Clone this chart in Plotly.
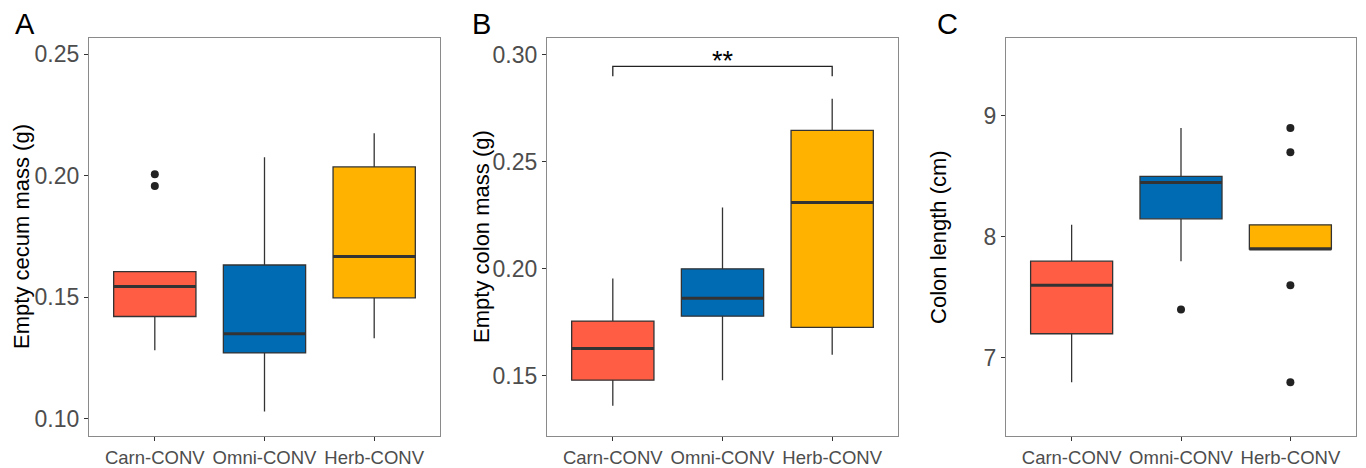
import plotly.graph_objects as go

W, H = 1366, 468

categories = ["Carn-CONV", "Omni-CONV", "Herb-CONV"]
colors = ["#FF5E45", "#006BB2", "#FFB300"]

# Panel A: Empty cecum mass (g)
a_low = [0.1282, 0.1030, 0.1331]
a_q1 = [0.1421, 0.1271, 0.1498]
a_med = [0.1545, 0.1350, 0.1668]
a_q3 = [0.1606, 0.1633, 0.2037]
a_high = [0.1606, 0.2077, 0.2176]
a_out_x = ["Carn-CONV", "Carn-CONV"]
a_out_y = [0.2007, 0.1958]

# Panel B: Empty colon mass (g)
b_low = [0.1361, 0.1480, 0.1599]
b_q1 = [0.1480, 0.1779, 0.1727]
b_med = [0.1628, 0.1863, 0.2310]
b_q3 = [0.1756, 0.2000, 0.2647]
b_high = [0.1955, 0.2287, 0.2795]
b_out_x = []
b_out_y = []
b_sig_pair = ["Carn-CONV", "Herb-CONV"]
b_sig_y = 0.2946
b_sig_drop = 0.2900
b_sig_label = "**"

# Panel C: Colon length (cm)
c_low = [6.8, 7.8, 7.9]
c_q1 = [7.2, 8.15, 7.9]
c_med = [7.6, 8.45, 7.9]
c_q3 = [7.8, 8.5, 8.1]
c_high = [8.1, 8.9, 8.1]
c_out_x = ["Omni-CONV", "Herb-CONV", "Herb-CONV", "Herb-CONV", "Herb-CONV"]
c_out_y = [7.4, 8.9, 8.7, 7.6, 6.8]

panels = [
    dict(low=a_low, q1=a_q1, med=a_med, q3=a_q3, high=a_high, ox=a_out_x, oy=a_out_y,
         yrange=[0.0928, 0.2569], ytick=[0.10, 0.15, 0.20, 0.25], yfmt="{:.2f}",
         title="Empty cecum mass (g)", letter="A"),
    dict(low=b_low, q1=b_q1, med=b_med, q3=b_q3, high=b_high, ox=b_out_x, oy=b_out_y,
         yrange=[0.1218, 0.3080], ytick=[0.15, 0.20, 0.25, 0.30], yfmt="{:.2f}",
         title="Empty colon mass (g)", letter="B"),
    dict(low=c_low, q1=c_q1, med=c_med, q3=c_q3, high=c_high, ox=c_out_x, oy=c_out_y,
         yrange=[6.353, 9.647], ytick=[7, 8, 9], yfmt="{:.0f}",
         title="Colon length (cm)", letter="C"),
]

# layout in pixels
frames_x = [(89, 440), (547, 898), (1006, 1356)]
frame_y = (38, 440)
title_x = [22, 482, 939]
letter_x = [13, 470, 935]

FONT = "Liberation Sans, Arial, sans-serif"
BOXW = 0.75

fig = go.Figure()
layout = dict(
    width=W, height=H,
    margin=dict(l=0, r=0, t=0, b=0),
    paper_bgcolor="white", plot_bgcolor="white",
    showlegend=False,
    font=dict(family=FONT),
)
annotations = []

for p, panel in enumerate(panels):
    xa = "x" if p == 0 else f"x{p+1}"
    ya = "y" if p == 0 else f"y{p+1}"
    for i, cat in enumerate(categories):
        fig.add_trace(go.Box(
            x=[i], q1=[panel["q1"][i]], median=[panel["med"][i]], q3=[panel["q3"][i]],
            lowerfence=[panel["low"][i]], upperfence=[panel["high"][i]],
            width=BOXW, fillcolor=colors[i], whiskerwidth=0,
            line=dict(color="#333333", width=1.3),
            boxpoints=False, hoverinfo="skip",
            xaxis=xa, yaxis=ya,
        ))
        # thicker median line
        fig.add_trace(go.Scatter(
            x=[i - BOXW / 2, i + BOXW / 2], y=[panel["med"][i], panel["med"][i]],
            mode="lines", line=dict(color="#333333", width=3),
            hoverinfo="skip", xaxis=xa, yaxis=ya,
        ))
    if panel["ox"]:
        fig.add_trace(go.Scatter(
            x=[categories.index(c) for c in panel["ox"]], y=panel["oy"],
            mode="markers", marker=dict(color="#222222", size=8),
            hoverinfo="skip", xaxis=xa, yaxis=ya,
        ))

    x0, x1 = frames_x[p]
    dom_x = [x0 / W, x1 / W]
    dom_y = [1 - frame_y[1] / H, 1 - frame_y[0] / H]
    layout["xaxis" if p == 0 else f"xaxis{p+1}"] = dict(
        domain=dom_x, range=[-0.6, 2.6], anchor=ya,
        tickvals=list(range(len(categories))), ticktext=categories,
        ticks="outside", ticklen=4, tickwidth=1, tickcolor="#333333",
        tickfont=dict(size=18.5, color="#4D4D4D", family=FONT),
        showgrid=False, zeroline=False,
        showline=True, mirror=True, linecolor="#8A8A8A", linewidth=1.2,
        fixedrange=True,
    )
    layout["yaxis" if p == 0 else f"yaxis{p+1}"] = dict(
        domain=dom_y, range=panel["yrange"], anchor=xa,
        tickvals=panel["ytick"], ticktext=[panel["yfmt"].format(v) for v in panel["ytick"]],
        ticks="outside", ticklen=4, tickwidth=1, tickcolor="#333333",
        tickfont=dict(size=23, color="#4D4D4D", family=FONT),
        showgrid=False, zeroline=False,
        showline=True, mirror=True, linecolor="#8A8A8A", linewidth=1.2,
        fixedrange=True,
    )
    annotations.append(dict(
        text=panel["title"], textangle=-90, xref="paper", yref="paper",
        x=title_x[p] / W, y=(dom_y[0] + dom_y[1]) / 2, showarrow=False,
        xanchor="center", yanchor="middle",
        font=dict(size=22, color="black", family=FONT),
    ))
    annotations.append(dict(
        text=panel["letter"], xref="paper", yref="paper",
        x=letter_x[p] / W, y=1 - 6 / H, showarrow=False,
        xanchor="left", yanchor="top",
        font=dict(size=29, color="black", family=FONT),
    ))

# significance bracket in panel B
i0 = categories.index(b_sig_pair[0])
i1 = categories.index(b_sig_pair[1])
fig.add_trace(go.Scatter(
    x=[i0, i0, i1, i1], y=[b_sig_drop, b_sig_y, b_sig_y, b_sig_drop],
    mode="lines", line=dict(color="#222222", width=1.3),
    hoverinfo="skip", xaxis="x2", yaxis="y2",
))
annotations.append(dict(
    text=b_sig_label, xref="x2", yref="y2", x=(i0 + i1) / 2, y=b_sig_y,
    showarrow=False, yanchor="bottom", yshift=-12,
    font=dict(size=27, color="black", family=FONT),
))

layout["annotations"] = annotations
fig.update_layout(**layout)
fig.write_html("out.html", config={"displayModeBar": False},
               post_script="document.body.style.margin='0';")
